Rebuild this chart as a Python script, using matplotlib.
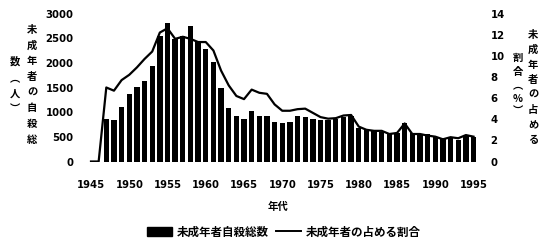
import matplotlib
matplotlib.use("Agg")
import matplotlib.pyplot as plt
from matplotlib.patches import Patch
from matplotlib.lines import Line2D

years = list(range(1945, 1996))
suicides = [0, 0, 870, 850, 1100, 1360, 1510, 1630, 1940, 2550,
            2800, 2480, 2550, 2750, 2450, 2290, 2010, 1480, 1090, 930,
            860, 1020, 920, 930, 800, 780, 800, 920, 910, 860,
            840, 840, 860, 900, 930, 680, 630, 620, 590, 560,
            580, 790, 570, 560, 550, 500, 480, 490, 440, 520, 500]
ratio = [0, 0, 7.0, 6.7, 7.7, 8.2, 8.9, 9.7, 10.4, 12.2,
         12.6, 11.6, 11.8, 11.6, 11.3, 11.3, 10.5, 8.6, 7.2, 6.2,
         5.9, 6.8, 6.5, 6.4, 5.4, 4.8, 4.8, 4.95, 5.0, 4.6,
         4.2, 4.05, 4.1, 4.35, 4.4, 3.3, 3.0, 2.9, 2.9, 2.6,
         2.7, 3.6, 2.6, 2.6, 2.45, 2.35, 2.1, 2.3, 2.2, 2.5, 2.35]
xticks = [1945, 1950, 1955, 1960, 1965, 1970, 1975, 1980, 1985, 1990, 1995]
left_ticks = [0, 500, 1000, 1500, 2000, 2500, 3000]
right_ticks = [0, 2, 4, 6, 8, 10, 12, 14]

bar_label = "未成年者自殺総数"
line_label = "未成年者の占める割合"
xlabel = "年代"
left_col1 = "未成年者の自殺総"
left_col2 = "数︵人︶"
right_col1 = "未成年者の占める"
right_col2 = "割合︵%︶"

CJK = ["Noto Sans CJK JP", "DejaVu Sans"]
NUM = "DejaVu Sans"

W, H = 553, 250
fig = plt.figure(figsize=(W / 100, H / 100), dpi=100)
L = 83.35 / W
R = 485 / W
B = 1 - 161.5 / H
T = 1 - 13.5 / H
ax = fig.add_axes([L, B, R - L, T - B])
ax2 = ax.twinx()

ax.bar(years, suicides, width=0.7, color="black", zorder=2)
ax.set_xlim(1944, 1996.5)
ax.set_ylim(0, 3000)
ax2.set_ylim(0, 14)
ax2.plot(years, ratio, color="black", lw=1.6, zorder=3)

for a in (ax, ax2):
    for s in a.spines.values():
        s.set_visible(False)
    a.patch.set_visible(False)

ax.set_xticks(xticks)
ax.set_xticklabels([str(y) for y in xticks], fontfamily=NUM,
                   fontweight="bold", fontsize=7.2)
ax.set_yticks(left_ticks)
ax.set_yticklabels([str(v) for v in left_ticks], fontfamily=NUM,
                   fontweight="bold", fontsize=7.3)
ax2.set_yticks(right_ticks)
ax2.set_yticklabels([str(v) for v in right_ticks], fontfamily=NUM,
                    fontweight="bold", fontsize=7.3)
ax.tick_params(axis="x", length=0, pad=13)
ax.tick_params(axis="y", length=0, pad=7)
ax2.tick_params(axis="y", length=0, pad=4)

fig.text(278 / W, 1 - 207 / H, xlabel, family=CJK, fontweight="bold",
         fontsize=7.5, ha="center", va="center")


def vtext(x, y0, pitch, s):
    for i, ch in enumerate(s):
        fig.text(x / W, 1 - (y0 + i * pitch) / H, ch, family=CJK,
                 fontweight="bold", fontsize=7.4, ha="center", va="center")


vtext(32, 30, 15.7, left_col1)
vtext(15, 62, 16, left_col2)
vtext(533, 35, 15, right_col1)
vtext(518, 58, 13.5, right_col2)

handles = [Patch(facecolor="black", edgecolor="black"),
           Line2D([], [], color="black", lw=1.4)]
leg = fig.legend(handles, [bar_label, line_label], loc="center",
                 bbox_to_anchor=(284 / W, 1 - 232 / H), ncol=2, frameon=False,
                 prop={"family": CJK, "weight": "bold", "size": 8.3},
                 handlelength=2.2, handletextpad=0.4, columnspacing=0.6,
                 borderpad=0, borderaxespad=0)

fig.savefig("out.png", dpi=100)
